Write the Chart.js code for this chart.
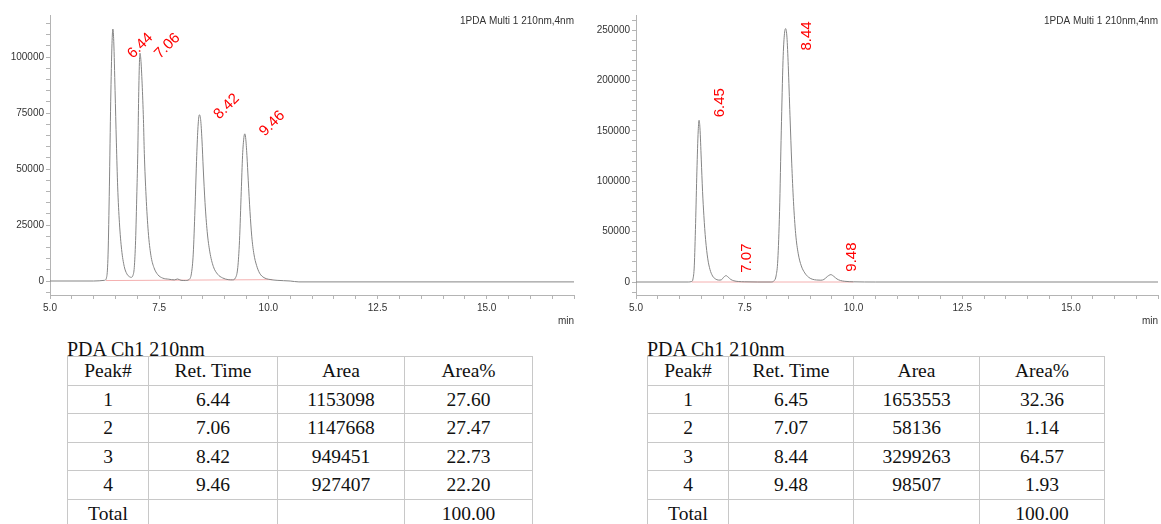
<!DOCTYPE html>
<html>
<head>
<meta charset="utf-8">
<script src="https://cdn.jsdelivr.net/npm/chart.js@4.4.1/dist/chart.umd.min.js"></script>
<style>
  html, body { margin: 0; padding: 0; background: #fff; width: 1161px; height: 524px; overflow: hidden; }
  .plot { position: absolute; top: 0; height: 331px; }
  #leftPlot  { left: 0;     width: 580px; }
  #rightPlot { left: 586px; width: 575px; }
  .ttl { position: absolute; font: 20px "Liberation Serif", "Times New Roman", serif; color: #111; line-height: 20px; white-space: nowrap; }
  table { position: absolute; border-collapse: collapse; table-layout: fixed; font: 19.5px "Liberation Serif", "Times New Roman", serif; color: #111; }
  td { border: 1px solid #c8c8c8; text-align: center; vertical-align: middle; padding: 0; white-space: nowrap; }
</style>
</head>
<body>
<div class="plot" id="leftPlot"><canvas id="leftChart"></canvas></div>
<div class="plot" id="rightPlot"><canvas id="rightChart"></canvas></div>

<div class="ttl" style="left:67px; top:339px;">PDA Ch1 210nm</div>
<table id="leftTable" style="left:67px; top:356px;"></table>
<div class="ttl" style="left:647px; top:339px;">PDA Ch1 210nm</div>
<table id="rightTable" style="left:647px; top:356px;"></table>

<script>
// ── Data ─────────────────────────────────────────────────────────────────────
const detectorLabel = '1PDA Multi 1 210nm,4nm';
const tableHeader   = ['Peak#', 'Ret. Time', 'Area', 'Area%'];

// left chromatogram (min, signal)
const leftTime = [5.00, 6.00, 6.25, 6.30, 6.33, 6.36, 6.39, 6.42, 6.44, 6.46, 6.49, 6.52, 6.55, 6.59, 6.64, 6.70, 6.76, 6.82, 6.86,
  6.90, 6.93, 6.96, 6.99, 7.01, 7.03, 7.05, 7.06, 7.08, 7.11, 7.14, 7.16, 7.20, 7.25, 7.31, 7.38, 7.47, 7.58, 7.72, 7.85, 7.92,
  8.00, 8.10, 8.18, 8.24, 8.28, 8.32, 8.36, 8.39, 8.42, 8.45, 8.48, 8.51, 8.55, 8.60, 8.66, 8.74, 8.84, 8.95, 9.08, 9.18,
  9.25, 9.30, 9.34, 9.38, 9.41, 9.44, 9.46, 9.48, 9.51, 9.54, 9.58, 9.62, 9.67, 9.73, 9.80, 9.90, 10.00, 10.20, 10.50, 10.70, 17.00];
const leftSignal = [0, 0, 300, 2000, 12000, 42000, 80000, 106000, 112500, 107000, 85000, 62000, 42000, 26000, 14000, 6500, 3200, 1900, 1650,
  2500, 6000, 18000, 40000, 57000, 82000, 99000, 101700, 99000, 88000, 72000, 57000, 38000, 22000, 11500, 6000, 2800, 1300, 800, 500, 900,
  300, 200, 600, 3500, 12000, 32000, 56000, 69000, 74200, 72000, 63000, 50000, 35000, 22000, 13000, 6500, 3000, 1400, 600, 500,
  1500, 6000, 18000, 40000, 56000, 64000, 65700, 64000, 56000, 45000, 31000, 20000, 12000, 7000, 3500, 1500, 800, 300, 0, -400, -400];
const leftBaseTime   = [6.28, 10.10];
const leftBaseSignal = [200, 600];
const leftYLabels    = [0, 25000, 50000, 75000, 100000];

const leftPeakNo   = [1, 2, 3, 4];
const leftRT       = [6.44, 7.06, 8.42, 9.46];
const leftHeight   = [112500, 101700, 74200, 65700];
const leftArea     = [1153098, 1147668, 949451, 927407];
const leftAreaPct  = [27.60, 27.47, 22.73, 22.20];

// right chromatogram
const rightTime = [5.00, 6.20, 6.28, 6.31, 6.34, 6.37, 6.40, 6.43, 6.45, 6.47, 6.50, 6.53, 6.56, 6.60, 6.65, 6.70, 6.76, 6.82, 6.90,
  6.96, 7.01, 7.07, 7.12, 7.18, 7.25, 7.35, 7.50, 7.80, 8.10, 8.18, 8.22, 8.26, 8.30, 8.34, 8.38, 8.41, 8.44, 8.47, 8.50, 8.54,
  8.58, 8.62, 8.67, 8.73, 8.80, 8.88, 8.96, 9.05, 9.15, 9.25, 9.32, 9.40, 9.48, 9.55, 9.62, 9.70, 9.80, 10.00, 10.50, 17.00];
const rightSignal = [0, 0, 500, 3000, 16000, 58000, 110000, 150000, 160500, 153000, 122000, 90000, 66000, 42000, 23000, 12500, 6000, 3200, 1900,
  2100, 4500, 6300, 4800, 2500, 1200, 500, 200, 0, 0, 1500, 6000, 22000, 70000, 150000, 220000, 245000, 251500, 243000, 215000, 165000,
  118000, 80000, 48000, 28000, 16000, 9000, 5000, 2800, 2000, 1800, 2500, 5500, 7300, 5500, 3000, 1500, 700, 200, 0, 0];
const rightBaseTime   = [6.28, 10.00];
const rightBaseSignal = [0, 0];
const rightYLabels    = [0, 50000, 100000, 150000, 200000, 250000];

const rightPeakNo  = [1, 2, 3, 4];
const rightRT      = [6.45, 7.07, 8.44, 9.48];
const rightHeight  = [160500, 6300, 251500, 7300];
const rightArea    = [1653553, 58136, 3299263, 98507];
const rightAreaPct = [32.36, 1.14, 64.57, 1.93];

const xLabels  = [5.0, 7.5, 10.0, 12.5, 15.0];
const totalPct = 100.00;

// ── Helpers ──────────────────────────────────────────────────────────────────
const AXIS = '#b4b4b4';
const TXT  = '#333';
const SANS = '"Liberation Sans", Arial, sans-serif';

const toPoints = (xs, ys) => xs.map((t, i) => ({ x: t, y: ys[i] }));

// minor tick positions between lo and hi
function tickRange(lo, hi, step) {
  const out = [];
  for (let v = Math.ceil(lo / step) * step; v <= hi; v += step) out.push({ value: v });
  return out;
}

// peak retention-time labels + detector caption
const peakLabels = {
  id: 'peakLabels',
  afterDatasetsDraw(chart, args, o) {
    const { ctx, chartArea, scales: { x, y } } = chart;
    ctx.save();
    ctx.fillStyle = '#ff0000';
    ctx.font = `${o.size}px ${SANS}`;
    ctx.textAlign = 'left';
    ctx.textBaseline = 'alphabetic';
    o.rt.forEach((t, i) => {
      ctx.save();
      ctx.translate(x.getPixelForValue(t) + o.dx, y.getPixelForValue(o.height[i]) + o.dy[i]);
      ctx.rotate(o.angle);
      ctx.fillText(t.toFixed(2), 0, 0);
      ctx.restore();
    });
    ctx.fillStyle = TXT;
    ctx.font = `10px ${SANS}`;
    ctx.textAlign = 'right';
    ctx.textBaseline = 'middle';
    ctx.fillText(detectorLabel, chartArea.right, 21);
    ctx.restore();
  }
};

function makeChart(id, cfg) {
  return new Chart(document.getElementById(id), {
    type: 'scatter',
    data: {
      datasets: [{
        data: toPoints(cfg.time, cfg.signal),
        showLine: true,
        borderColor: '#858585',
        borderWidth: 1,
        pointRadius: 0,
        cubicInterpolationMode: 'monotone',
      }, {
        data: toPoints(cfg.baseTime, cfg.baseSignal),
        showLine: true,
        borderColor: '#f4b0b0',
        borderWidth: 1,
        pointRadius: 0,
      }]
    },
    options: {
      responsive: true,
      maintainAspectRatio: false,
      animation: false,
      layout: { padding: { top: 15, right: cfg.padRight, left: 0, bottom: 0 } },
      plugins: {
        legend: { display: false },
        tooltip: { enabled: false },
        peakLabels: cfg.labels,
      },
      scales: {
        x: {
          type: 'linear', min: 5, max: 17,
          afterFit: s => { s.height = 36; },
          afterBuildTicks: s => { s.ticks = tickRange(5, 17, 0.5); },
          ticks: {
            autoSkip: false, maxRotation: 0, padding: 3, color: TXT,
            font: { family: SANS, size: 10 },
            callback: v => xLabels.includes(v) ? v.toFixed(1) : ''
          },
          grid: { drawOnChartArea: false, tickLength: 4, tickColor: AXIS },
          border: { color: AXIS },
          title: { display: true, text: 'min', align: 'end', color: TXT, font: { family: SANS, size: 10 }, padding: { top: 0, bottom: 4 } }
        },
        y: {
          min: cfg.yMin, max: cfg.yMax,
          afterFit: s => { s.width = 50; },
          afterBuildTicks: s => { s.ticks = tickRange(cfg.yMin, cfg.yMax, cfg.minorStep); },
          ticks: {
            autoSkip: false, padding: 2, color: TXT,
            font: { family: SANS, size: 10 },
            callback: v => cfg.yLabels.includes(v) ? String(v) : ''
          },
          grid: { drawOnChartArea: false, tickLength: 4, tickColor: AXIS },
          border: { color: AXIS }
        }
      }
    },
    plugins: [peakLabels]
  });
}

function fillTable(id, peakNo, rt, area, pct, widths) {
  const heights = [29, 28, 29, 28, 29, 28];
  const rows = [tableHeader];
  peakNo.forEach((p, i) => rows.push([p, rt[i].toFixed(2), area[i], pct[i].toFixed(2)]));
  rows.push(['Total', '', '', totalPct.toFixed(2)]);
  document.getElementById(id).innerHTML =
    '<colgroup>' + widths.map(w => `<col style="width:${w}px">`).join('') + '</colgroup>' +
    rows.map((r, i) => `<tr style="height:${heights[i]}px">` + r.map(c => `<td>${c}</td>`).join('') + '</tr>').join('');
}

// ── Charts ───────────────────────────────────────────────────────────────────
makeChart('leftChart', {
  time: leftTime, signal: leftSignal, baseTime: leftBaseTime, baseSignal: leftBaseSignal,
  yMin: -6250, yMax: 118750, minorStep: 5000, yLabels: leftYLabels, padRight: 6,
  labels: { rt: leftRT, height: leftHeight, dx: 20, dy: [30, 6, 5, 3], angle: -Math.PI / 4, size: 15 }
});

makeChart('rightChart', {
  time: rightTime, signal: rightSignal, baseTime: rightBaseTime, baseSignal: rightBaseSignal,
  yMin: -12900, yMax: 265000, minorStep: 10000, yLabels: rightYLabels, padRight: 0,
  labels: { rt: rightRT, height: rightHeight, dx: 25, dy: [-3, -3, 22, -3], angle: -Math.PI / 2, size: 15 }
});

// ── Tables ───────────────────────────────────────────────────────────────────
fillTable('leftTable', leftPeakNo, leftRT, leftArea, leftAreaPct, [81, 129, 127, 128]);
fillTable('rightTable', rightPeakNo, rightRT, rightArea, rightAreaPct, [81, 125, 126, 125]);
</script>
</body>
</html>
